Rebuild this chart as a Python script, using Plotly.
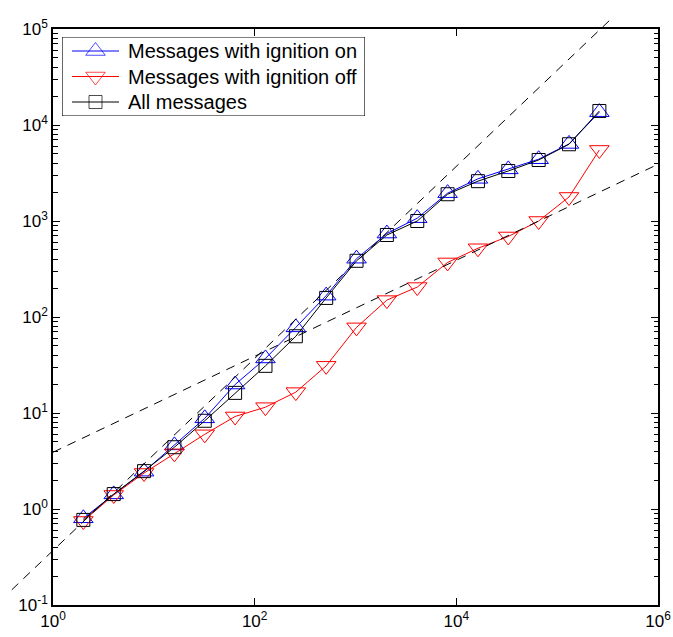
import plotly.graph_objects as go

# ---- data ----
x_vals = [2, 4, 8, 16, 32, 64, 128, 256, 512, 1024, 2048, 4096, 8192,
          16384, 32768, 65536, 131072, 262144]
ign_on = [0.8, 1.42, 2.45, 4.6, 8.8, 19.8, 37, 78, 167, 405, 740, 1070,
          1950, 2750, 3450, 4400, 6350, 13600]
ign_off = [0.75, 1.4, 2.37, 3.8, 6.0, 9.2, 11.5, 16.5, 31, 78, 150, 205,
           370, 520, 690, 1000, 1780, 5500]
all_msg = [0.77, 1.43, 2.48, 4.4, 8.3, 16.2, 31, 63, 158, 385, 715, 1000,
           1900, 2600, 3320, 4320, 6300, 14000]
fit1_x = [0.39, 3.5e5]
fit1_y = [0.144, 1.3e5]
fit2_x = [1, 1e6]
fit2_y = [3.9, 3900]

names = ["Messages with ignition on", "Messages with ignition off", "All messages"]
colors = ["blue", "red", "black"]
symbols = ["triangle-up-open", "triangle-down-open", "square-open"]
msizes = [17, 17, 13]
series = [ign_on, ign_off, all_msg]
x_exps = [0, 2, 4, 6]
y_exps = [-1, 0, 1, 2, 3, 4, 5]

# ---- layout geometry (pixels) ----
W, H = 673, 637
L, R, T, B = 53, 658, 29, 605   # plot box edges
xr = (0, 6)
yr = (-1, 5)
xpd = (R - L) / (xr[1] - xr[0])  # px per decade
ypd = (B - T) / (yr[1] - yr[0])
# legend box (pixels)
LX0, LX1, LY0, LY1 = 62, 365, 37, 116
row_y = [51, 76.5, 102]
seg_x = [72, 95.5, 119]
text_x = 126

font = dict(family="Liberation Sans, Arial, sans-serif", size=17, color="black")
legfont = dict(family="Liberation Sans, Arial, sans-serif", size=20, color="black")

x_tickvals = [10 ** e for e in x_exps]
x_ticktext = ["10<sup>%d</sup>" % e for e in x_exps]
y_tickvals = [10.0 ** e for e in y_exps]
y_ticktext = ["10<sup>%d</sup>" % e for e in y_exps]
y_minor = [k * 10.0 ** e for e in y_exps[:-1] for k in range(2, 10)]

fig = go.Figure()

# dashed reference lines on a full-figure overlay axis (not clipped by box)
for fx, fy in [(fit1_x, fit1_y), (fit2_x, fit2_y)]:
    fig.add_trace(go.Scatter(x=fx, y=fy, mode="lines", xaxis="x2", yaxis="y2",
                             line=dict(color="black", width=1, dash="9px,7px"),
                             showlegend=False, hoverinfo="skip"))

# empty trace so the minor-tick overlay axis gets drawn
fig.add_trace(go.Scatter(x=[None], y=[None], xaxis="x", yaxis="y4", mode="lines",
                         showlegend=False, hoverinfo="skip"))

for nm, c, s, ms, ys in zip(names, colors, symbols, msizes, series):
    fig.add_trace(go.Scatter(x=x_vals, y=ys, name=nm, mode="lines+markers",
                             line=dict(color=c, width=1),
                             marker=dict(symbol=s, size=ms, color=c, line=dict(width=1)),
                             showlegend=False))

# legend drawn on its own small axes
for nm, c, s, ms, ry in zip(names, colors, symbols, msizes, row_y):
    fig.add_trace(go.Scatter(x=seg_x, y=[ry] * 3, mode="lines+markers",
                             xaxis="x3", yaxis="y3", showlegend=False, hoverinfo="skip",
                             line=dict(color=c, width=1),
                             marker=dict(symbol=s, size=[0, ms, 0], color=c,
                                         line=dict(width=1))))
    fig.add_annotation(x=text_x, y=ry, xref="x3", yref="y3", text=nm, showarrow=False,
                       xanchor="left", yanchor="middle", font=legfont)
fig.add_shape(type="rect", xref="x3", yref="y3", x0=LX0, x1=LX1, y0=LY0, y1=LY1,
              line=dict(color="black", width=1.2), fillcolor="white", layer="below")

axis_common = dict(type="log", showgrid=False, zeroline=False, showline=True,
                   linecolor="black", linewidth=1.5, ticks="inside", ticklen=7,
                   tickwidth=1.3, tickcolor="black", mirror="ticks", tickmode="array",
                   tickfont=font, automargin=False)

fig.update_layout(
    width=W, height=H,
    margin=dict(l=0, r=0, t=0, b=0),
    paper_bgcolor="white", plot_bgcolor="rgba(0,0,0,0)",
    font=font,
    showlegend=False,
    xaxis=dict(axis_common, range=list(xr), tickvals=x_tickvals, ticktext=x_ticktext,
               domain=[L / W, R / W], anchor="y"),
    yaxis=dict(axis_common, range=list(yr), tickvals=y_tickvals, ticktext=y_ticktext,
               domain=[1 - B / H, 1 - T / H], anchor="x"),
    yaxis4=dict(type="log", range=list(yr), overlaying="y", anchor="x", side="left",
                tickmode="array", tickvals=y_minor, ticktext=[""] * len(y_minor),
                ticks="inside", ticklen=4.5, tickwidth=1.2, tickcolor="black",
                showticklabels=False, showline=False, showgrid=False, zeroline=False,
                mirror="ticks", automargin=False),
    xaxis2=dict(type="log", domain=[0, 1], anchor="y2", visible=False,
                range=[xr[0] - L / xpd, xr[1] + (W - R) / xpd]),
    yaxis2=dict(type="log", domain=[0, 1], anchor="x2", visible=False,
                range=[yr[0] - (H - B) / ypd, yr[1] + T / ypd]),
    xaxis3=dict(domain=[LX0 / W, LX1 / W], range=[LX0, LX1], anchor="y3", visible=False),
    yaxis3=dict(domain=[1 - LY1 / H, 1 - LY0 / H], range=[LY1, LY0], anchor="x3",
                visible=False),
)

fig.write_html("out.html")
